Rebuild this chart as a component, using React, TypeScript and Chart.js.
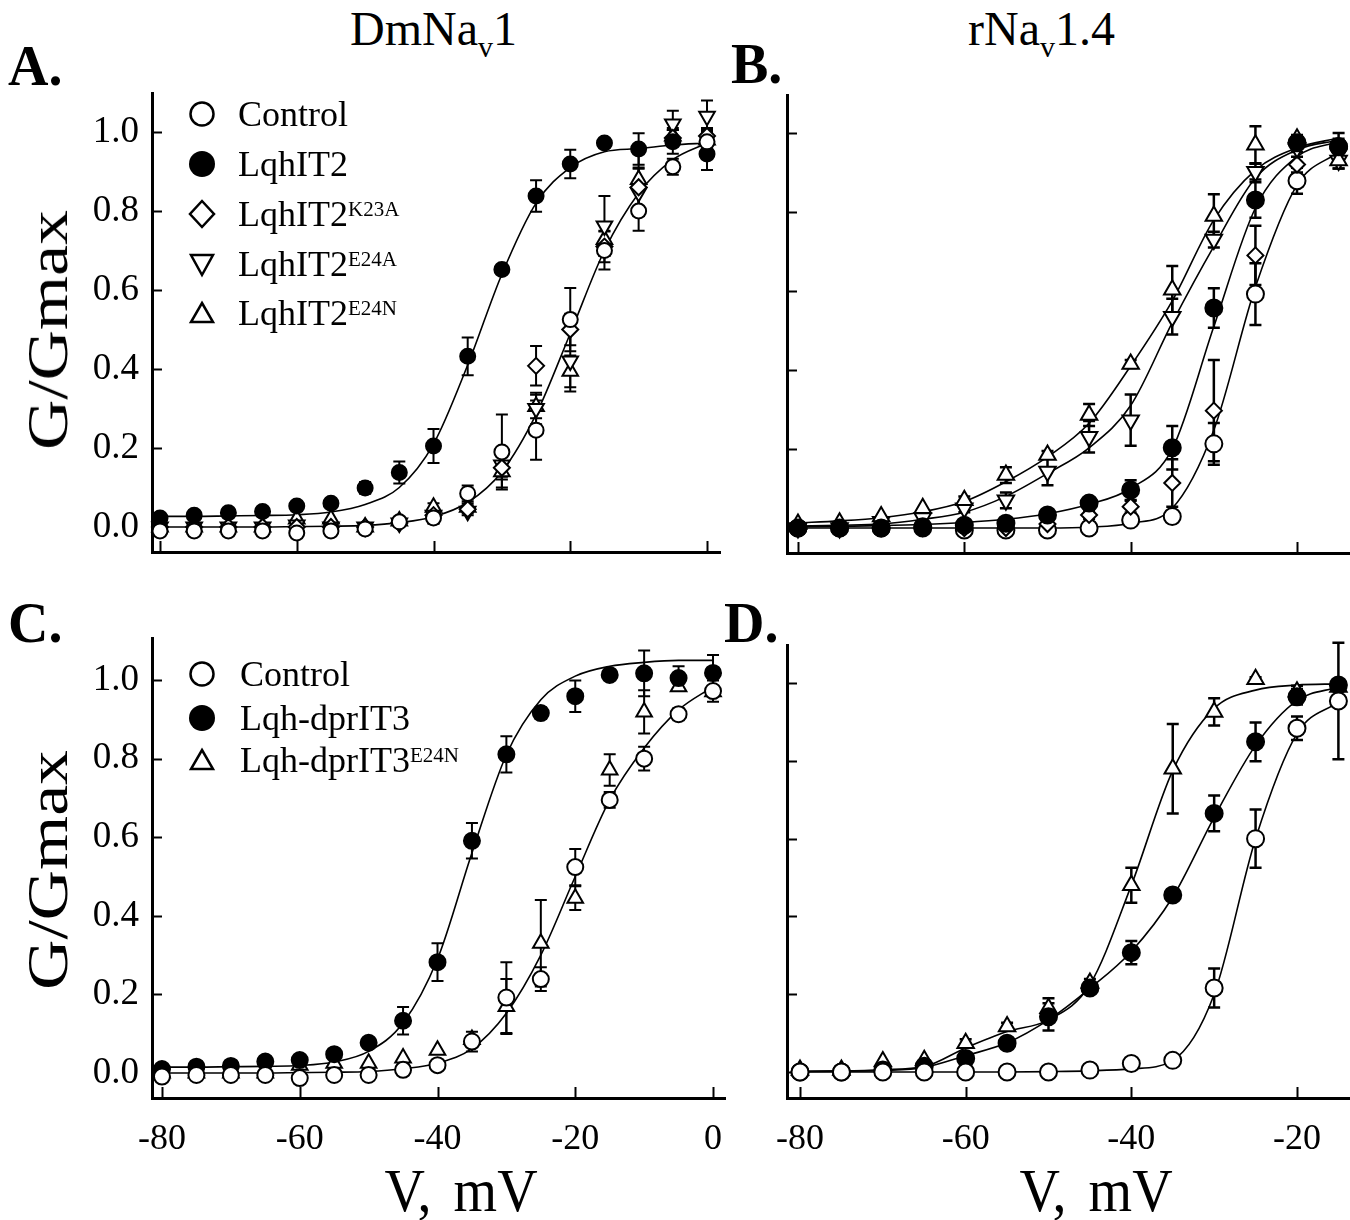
import React, { useEffect, useRef } from 'react';
import { Chart, registerables } from 'chart.js';

Chart.register(...registerables);

const FONT = '"Liberation Serif", "Times New Roman", serif';

// ---------- voltages & tick values ----------
const V_DM = [-80, -75, -70, -65, -60, -55, -50, -45, -40, -35, -30, -25, -20, -15, -10, -5, 0];
const V_R = [-80, -75, -70, -65, -60, -55, -50, -45, -40, -35, -30, -25, -20, -15];
const Y_TICKS = [0, 0.2, 0.4, 0.6, 0.8, 1.0];
const X_TICKS_DM = [-80, -60, -40, -20, 0];
const X_TICKS_R = [-80, -60, -40, -20];

// ---------- Panel A (DmNav1, LqhIT2 and mutants) ----------
const A_control = [-0.01, -0.01, -0.01, -0.01, -0.015, -0.01, -0.005, 0.013, 0.023, 0.085, 0.19, 0.245, 0.525, 0.70, 0.80, 0.912, 0.975];
const A_control_err = [0, 0, 0, 0, 0, 0, 0, 0.01, 0.015, 0.02, 0.095, 0.075, 0.08, 0.048, 0.05, 0.02, 0.03];
const A_lqh = [0.023, 0.030, 0.036, 0.039, 0.053, 0.06, 0.099, 0.138, 0.205, 0.432, 0.652, 0.838, 0.919, 0.972, 0.957, 0.975, 0.944];
const A_lqh_err = [0.005, 0.005, 0.005, 0.005, 0.01, 0.01, 0.015, 0.028, 0.043, 0.048, 0.01, 0.04, 0.036, 0.005, 0.04, 0.03, 0.04];
const A_k23a = [0, 0, 0, 0, 0, 0, 0, 0.01, 0.03, 0.045, 0.15, 0.408, 0.50, 0.71, 0.86, 0.985, 0.99];
const A_k23a_err = [0, 0, 0, 0, 0, 0, 0, 0, 0.01, 0.01, 0.03, 0.05, 0.04, 0.04, 0.05, 0.02, 0.02];
const A_e24a = [0, 0, 0, 0, 0.005, 0, 0, 0.01, 0.03, 0.04, 0.157, 0.30, 0.42, 0.762, 0.847, 1.02, 1.04];
const A_e24a_err = [0, 0, 0, 0, 0, 0, 0, 0, 0.01, 0.01, 0.03, 0.04, 0.077, 0.076, 0.06, 0.034, 0.04];
const A_e24n = [0, 0, 0, 0, 0.02, 0.02, 0, 0.015, 0.05, 0.05, 0.14, 0.305, 0.394, 0.728, 0.88, 0.99, 0.98];
const A_e24n_err = [0, 0, 0, 0, 0, 0, 0, 0, 0.01, 0.01, 0.04, 0.03, 0.04, 0.04, 0.07, 0.02, 0.02];
// fitted curves at 5 mV steps
const A_fit_control = [0, 0, 0, 0, 0.001, 0.002, 0.004, 0.011, 0.026, 0.062, 0.14, 0.285, 0.49, 0.70, 0.845, 0.93, 0.972];
const A_fit_lqh = [0.027, 0.027, 0.028, 0.029, 0.031, 0.038, 0.057, 0.10, 0.21, 0.41, 0.64, 0.82, 0.91, 0.95, 0.958, 0.967, 0.972];

// ---------- Panel B (rNav1.4, LqhIT2 and mutants) ----------
const B_control = [0, 0, 0, 0, -0.005, -0.005, -0.005, 0.0, 0.02, 0.029, 0.213, 0.592, 0.879, 0.965];
const B_control_err = [0, 0, 0, 0, 0, 0, 0, 0, 0.01, 0.01, 0.053, 0.078, 0.033, 0.035];
const B_lqh = [0, 0, 0, 0.003, 0.007, 0.012, 0.033, 0.063, 0.096, 0.203, 0.557, 0.83, 0.975, 0.965];
const B_lqh_err = [0, 0, 0, 0, 0, 0.01, 0.01, 0.01, 0.025, 0.055, 0.05, 0.045, 0.01, 0.02];
const B_k23a = [0, 0, 0, 0, 0, 0, 0.01, 0.033, 0.054, 0.114, 0.297, 0.69, 0.92, 0.96];
const B_k23a_err = [0, 0, 0, 0, 0, 0, 0, 0.01, 0.015, 0.06, 0.128, 0.075, 0.02, 0.02];
const B_e24a = [0, 0, 0.016, 0.025, 0.05, 0.07, 0.143, 0.231, 0.273, 0.535, 0.73, 0.902, 0.962, 0.93];
const B_e24a_err = [0, 0, 0, 0, 0.01, 0.02, 0.035, 0.04, 0.065, 0.045, 0.02, 0.02, 0.01, 0.02];
const B_e24n = [0.01, 0.013, 0.029, 0.05, 0.07, 0.134, 0.185, 0.286, 0.415, 0.603, 0.79, 0.97, 0.985, 0.93];
const B_e24n_err = [0, 0, 0, 0, 0.01, 0.02, 0.01, 0.028, 0.01, 0.06, 0.055, 0.047, 0.01, 0.02];
const B_fit_e24n = [0.013, 0.018, 0.026, 0.041, 0.067, 0.117, 0.18, 0.265, 0.41, 0.575, 0.78, 0.906, 0.962, 0.987];
const B_fit_e24a = [0.005, 0.007, 0.01, 0.022, 0.04, 0.08, 0.138, 0.203, 0.31, 0.52, 0.713, 0.886, 0.957, 0.982];
const B_fit_lqh = [0.003, 0.004, 0.006, 0.009, 0.014, 0.022, 0.036, 0.06, 0.1, 0.2, 0.51, 0.81, 0.94, 0.978];
const B_fit_control = [0, 0, 0, 0, 0, 0, 0, 0.002, 0.012, 0.05, 0.248, 0.61, 0.868, 0.952];

// ---------- Panel C (DmNav1, Lqh-dprIT3) ----------
const C_control = [-0.009, -0.005, -0.005, -0.005, -0.013, -0.005, -0.005, 0.008, 0.02, 0.08, 0.192, 0.239, 0.524, 0.695, 0.80, 0.913, 0.972];
const C_control_err = [0, 0, 0, 0, 0, 0, 0, 0.01, 0.01, 0.025, 0.09, 0.03, 0.046, 0.02, 0.03, 0.015, 0.027];
const C_dpr = [0.01, 0.016, 0.018, 0.029, 0.033, 0.048, 0.077, 0.133, 0.282, 0.591, 0.811, 0.916, 0.959, 1.013, 1.017, 1.005, 1.018];
const C_dpr_err = [0, 0, 0, 0, 0, 0, 0.01, 0.035, 0.048, 0.045, 0.046, 0.015, 0.04, 0.005, 0.058, 0.03, 0.046];
const C_e24n = [0, 0, 0, 0, 0.02, 0.025, 0.025, 0.038, 0.058, 0.085, 0.169, 0.33, 0.445, 0.771, 0.919, 0.983, 0.97];
const C_e24n_err = [0, 0, 0, 0, 0, 0, 0, 0, 0, 0, 0.07, 0.11, 0.03, 0.04, 0.055, 0.01, 0.01];
const C_fit_control = [0, 0, 0, 0, 0.001, 0.002, 0.004, 0.011, 0.025, 0.062, 0.152, 0.3, 0.5, 0.695, 0.827, 0.924, 0.983];
const C_fit_dpr = [0.015, 0.015, 0.016, 0.017, 0.019, 0.028, 0.055, 0.127, 0.29, 0.56, 0.81, 0.95, 1.01, 1.035, 1.045, 1.05, 1.05];

// ---------- Panel D (rNav1.4, Lqh-dprIT3) ----------
const D_control = [0, 0, 0, 0, 0, 0, 0, 0.005, 0.022, 0.03, 0.216, 0.6, 0.884, 0.954];
const D_control_err = [0, 0, 0, 0, 0, 0, 0, 0, 0, 0, 0.05, 0.075, 0.03, 0.15];
const D_dpr = [0, 0, 0.005, 0.015, 0.035, 0.074, 0.142, 0.216, 0.307, 0.455, 0.665, 0.849, 0.965, 0.995];
const D_dpr_err = [0, 0, 0, 0, 0.01, 0.01, 0.035, 0.015, 0.03, 0.01, 0.046, 0.05, 0.02, 0.01];
const D_e24n = [0.005, 0.005, 0.027, 0.03, 0.074, 0.117, 0.164, 0.229, 0.48, 0.78, 0.926, 1.01, 0.978, 0.99];
const D_e24n_err = [0, 0, 0, 0, 0.01, 0.01, 0.026, 0.01, 0.045, 0.115, 0.035, 0.005, 0.015, 0.01];
const D_fit_e24n = [0.002, 0.003, 0.006, 0.014, 0.062, 0.104, 0.134, 0.225, 0.48, 0.775, 0.935, 0.982, 0.995, 0.998];
const D_fit_dpr = [0.001, 0.002, 0.004, 0.012, 0.042, 0.075, 0.134, 0.215, 0.31, 0.45, 0.655, 0.84, 0.955, 0.99];
const D_fit_control = [0, 0, 0, 0, 0, 0, 0.001, 0.003, 0.008, 0.03, 0.2, 0.6, 0.87, 0.952];

// ---------- helpers ----------
type Shape = 'open' | 'filled' | 'diamond' | 'down' | 'up';

const pts = (xs: number[], ys: number[]) => xs.map((x, i) => ({ x, y: ys[i] }));

function markerSet(label: string, xs: number[], ys: number[], errs: number[], shape: Shape, order: number, r: number) {
  const base: any = {
    type: 'scatter',
    label,
    data: pts(xs, ys),
    errorBars: errs,
    showLine: false,
    order,
    clip: false,
    pointBorderColor: '#000',
    pointBorderWidth: 2,
    pointRadius: r,
    pointBackgroundColor: shape === 'filled' ? '#000' : '#fff',
    pointStyle: 'circle',
    pointRotation: 0,
  };
  if (shape === 'diamond') { base.pointStyle = 'rectRot'; base.pointRadius = r; }
  if (shape === 'up') { base.pointStyle = 'triangle'; base.pointRadius = r + 1.5; }
  if (shape === 'down') { base.pointStyle = 'triangle'; base.pointRotation = 180; base.pointRadius = r + 1.5; }
  return base;
}

function fitSet(xs: number[], ys: number[]) {
  return {
    type: 'line',
    label: 'fit',
    data: pts(xs, ys),
    borderColor: '#000',
    borderWidth: 1.6,
    pointRadius: 0,
    cubicInterpolationMode: 'monotone',
    fill: false,
    order: 50,
    clip: false,
  } as any;
}

const errorBarPlugin = {
  id: 'errorBars',
  beforeDatasetsDraw(chart: any) {
    const { ctx } = chart;
    const xs = chart.scales.x;
    const ys = chart.scales.y;
    const capW = chart.options.plugins.innerTicks.cap || 6;
    const lw = chart.options.plugins.innerTicks.errWidth || 2;
    chart.data.datasets.forEach((ds: any) => {
      if (!ds.errorBars) return;
      ctx.save();
      ctx.strokeStyle = '#000';
      ctx.lineWidth = lw;
      ds.data.forEach((p: any, i: number) => {
        const e = ds.errorBars[i];
        if (!e) return;
        const x = xs.getPixelForValue(p.x);
        const y1 = ys.getPixelForValue(p.y + e);
        const y2 = ys.getPixelForValue(p.y - e);
        ctx.beginPath();
        ctx.moveTo(x, y1); ctx.lineTo(x, y2);
        ctx.moveTo(x - capW, y1); ctx.lineTo(x + capW, y1);
        ctx.moveTo(x - capW, y2); ctx.lineTo(x + capW, y2);
        ctx.stroke();
      });
      ctx.restore();
    });
  },
};

const innerTicksPlugin = {
  id: 'innerTicks',
  beforeDatasetsDraw(chart: any, _args: any, opts: any) {
    const { ctx, chartArea } = chart;
    const xs = chart.scales.x;
    const ys = chart.scales.y;
    ctx.save();
    ctx.strokeStyle = '#000';
    ctx.lineWidth = 2;
    (opts.y || []).forEach((v: number) => {
      const y = Math.round(ys.getPixelForValue(v)) + 0.5;
      ctx.beginPath(); ctx.moveTo(chartArea.left, y); ctx.lineTo(chartArea.left + 10, y); ctx.stroke();
    });
    (opts.x || []).forEach((v: number) => {
      const x = Math.round(xs.getPixelForValue(v)) + 0.5;
      ctx.beginPath(); ctx.moveTo(x, chartArea.bottom); ctx.lineTo(x, chartArea.bottom - 11); ctx.stroke();
    });
    ctx.restore();
  },
};

const zeroPadding = (s: any) => {
  s.paddingLeft = 0; s.paddingRight = 0; s.paddingTop = 0; s.paddingBottom = 0;
};

interface PanelCfg {
  left: number; top: number; width: number; height: number;
  padTop: number; padRight: number; yW: number; xH: number;
  xMin: number; xMax: number; yMin: number; yMax: number;
  yLabels: boolean; xLabels: boolean; xTicks: number[];
  datasets: any[]; errWidth: number;
}

function Panel({ cfg }: { cfg: PanelCfg }) {
  const ref = useRef<HTMLCanvasElement | null>(null);
  useEffect(() => {
    if (!ref.current) return;
    const chart = new Chart(ref.current, {
      type: 'scatter',
      data: { datasets: cfg.datasets },
      plugins: [errorBarPlugin, innerTicksPlugin],
      options: {
        animation: false,
        responsive: false,
        events: [],
        devicePixelRatio: 1,
        layout: { padding: { top: cfg.padTop, right: cfg.padRight, left: 0, bottom: 0 }, autoPadding: false },
        plugins: {
          legend: { display: false },
          tooltip: { enabled: false },
          title: { display: false },
          innerTicks: { x: cfg.xTicks, y: Y_TICKS, cap: 6, errWidth: cfg.errWidth },
        } as any,
        scales: {
          x: {
            type: 'linear',
            min: cfg.xMin,
            max: cfg.xMax,
            grid: { display: false, drawTicks: true, tickLength: 8 },
            border: { display: true, color: '#000', width: 3 },
            afterBuildTicks: (s: any) => { s.ticks = cfg.xTicks.map((v) => ({ value: v })); },
            afterFit: (s: any) => { s.height = cfg.xH; zeroPadding(s); },
            ticks: {
              display: cfg.xLabels,
              color: '#000',
              padding: 12,
              maxRotation: 0,
              autoSkip: false,
              font: { family: FONT, size: 36 },
              callback: (v: any) => String(v),
            },
          },
          y: {
            type: 'linear',
            min: cfg.yMin,
            max: cfg.yMax,
            grid: { display: false, drawTicks: false },
            border: { display: true, color: '#000', width: 3 },
            afterBuildTicks: (s: any) => { s.ticks = Y_TICKS.map((v) => ({ value: v })); },
            afterFit: (s: any) => { s.width = cfg.yW; zeroPadding(s); },
            ticks: {
              display: cfg.yLabels,
              color: '#000',
              padding: 13,
              autoSkip: false,
              font: { family: FONT, size: 37 },
              callback: (v: any) => Number(v).toFixed(1),
            },
          },
        },
      } as any,
    });
    return () => chart.destroy();
  }, []);
  return (
    <canvas
      ref={ref}
      width={cfg.width}
      height={cfg.height}
      style={{ position: 'absolute', left: cfg.left, top: cfg.top, width: cfg.width, height: cfg.height }}
    />
  );
}

// ---------- panel configurations ----------
const panelA: PanelCfg = {
  left: 52, top: 73, width: 683, height: 489, padTop: 20, padRight: 15, yW: 100, xH: 10,
  xMin: -81.17, xMax: 1.9, yMin: -0.0633, yMax: 1.0987, yLabels: true, xLabels: false, xTicks: X_TICKS_DM, errWidth: 2,
  datasets: [
    markerSet('Control', V_DM, A_control, A_control_err, 'open', 1, 7.5),
    markerSet('LqhIT2', V_DM, A_lqh, A_lqh_err, 'filled', 2, 7.5),
    markerSet('LqhIT2 K23A', V_DM, A_k23a, A_k23a_err, 'diamond', 3, 8),
    markerSet('LqhIT2 E24A', V_DM, A_e24a, A_e24a_err, 'down', 4, 7.5),
    markerSet('LqhIT2 E24N', V_DM, A_e24n, A_e24n_err, 'up', 5, 7.5),
    fitSet(V_DM, A_fit_control),
    fitSet(V_DM, A_fit_lqh),
  ],
};

const panelB: PanelCfg = {
  left: 767, top: 75, width: 583, height: 488, padTop: 20, padRight: 0, yW: 20, xH: 10,
  xMin: -81.32, xMax: -13.63, yMin: -0.0633, yMax: 1.096, yLabels: false, xLabels: false, xTicks: X_TICKS_R, errWidth: 2.5,
  datasets: [
    markerSet('Control', V_R, B_control, B_control_err, 'open', 5, 8.5),
    markerSet('LqhIT2', V_R, B_lqh, B_lqh_err, 'filled', 1, 8.5),
    markerSet('LqhIT2 K23A', V_R, B_k23a, B_k23a_err, 'diamond', 4, 8),
    markerSet('LqhIT2 E24A', V_R, B_e24a, B_e24a_err, 'down', 3, 8),
    markerSet('LqhIT2 E24N', V_R, B_e24n, B_e24n_err, 'up', 2, 8),
    fitSet(V_R, B_fit_e24n),
    fitSet(V_R, B_fit_e24a),
    fitSet(V_R, B_fit_lqh),
    fitSet(V_R, B_fit_control),
  ],
};

const panelC: PanelCfg = {
  left: 52, top: 618, width: 683, height: 555, padTop: 20, padRight: 10, yW: 100, xH: 75,
  xMin: -81.45, xMax: 1.74, yMin: -0.0636, yMax: 1.107, yLabels: true, xLabels: true, xTicks: X_TICKS_DM, errWidth: 2,
  datasets: [
    markerSet('Control', V_DM, C_control, C_control_err, 'open', 1, 8),
    markerSet('Lqh-dprIT3', V_DM, C_dpr, C_dpr_err, 'filled', 2, 8),
    markerSet('Lqh-dprIT3 E24N', V_DM, C_e24n, C_e24n_err, 'up', 3, 7.5),
    fitSet(V_DM, C_fit_control),
    fitSet(V_DM, C_fit_dpr),
  ],
};

const panelD: PanelCfg = {
  left: 767, top: 625, width: 583, height: 548, padTop: 20, padRight: 0, yW: 20, xH: 75,
  xMin: -81.57, xMax: -13.6, yMin: -0.0668, yMax: 1.098, yLabels: false, xLabels: true, xTicks: X_TICKS_R, errWidth: 2.5,
  datasets: [
    markerSet('Control', V_R, D_control, D_control_err, 'open', 1, 8.5),
    markerSet('Lqh-dprIT3', V_R, D_dpr, D_dpr_err, 'filled', 2, 8.5),
    markerSet('Lqh-dprIT3 E24N', V_R, D_e24n, D_e24n_err, 'up', 3, 8),
    fitSet(V_R, D_fit_e24n),
    fitSet(V_R, D_fit_dpr),
    fitSet(V_R, D_fit_control),
  ],
};

// ---------- legend ----------
const LEGEND_A = [
  { shape: 'open', text: 'Control', sup: '' },
  { shape: 'filled', text: 'LqhIT2', sup: '' },
  { shape: 'diamond', text: 'LqhIT2', sup: 'K23A' },
  { shape: 'down', text: 'LqhIT2', sup: 'E24A' },
  { shape: 'up', text: 'LqhIT2', sup: 'E24N' },
];
const LEGEND_A_Y = [114, 164, 214, 264, 313];
const LEGEND_C = [
  { shape: 'open', text: 'Control', sup: '' },
  { shape: 'filled', text: 'Lqh-dprIT3', sup: '' },
  { shape: 'up', text: 'Lqh-dprIT3', sup: 'E24N' },
];
const LEGEND_C_Y = [674, 718, 760];

function MarkerIcon({ shape }: { shape: string }) {
  const s = 30;
  let el: any = null;
  if (shape === 'open') el = <circle cx={15} cy={15} r={11.5} fill="#fff" stroke="#000" strokeWidth={2.5} />;
  if (shape === 'filled') el = <circle cx={15} cy={15} r={13} fill="#000" />;
  if (shape === 'diamond') el = <polygon points="15,2 27,15 15,28 3,15" fill="#fff" stroke="#000" strokeWidth={2.5} />;
  if (shape === 'down') el = <polygon points="4,6 26,6 15,26" fill="#fff" stroke="#000" strokeWidth={2.5} />;
  if (shape === 'up') el = <polygon points="15,5 26,24 4,24" fill="#fff" stroke="#000" strokeWidth={2.5} />;
  return <svg width={s} height={s} style={{ display: 'block' }}>{el}</svg>;
}

function Legend({ items, ys, markerX, textX }: { items: any[]; ys: number[]; markerX: number; textX: number }) {
  return (
    <>
      {items.map((it, i) => (
        <React.Fragment key={i}>
          <div style={{ position: 'absolute', left: markerX - 15, top: ys[i] - 15 }}>
            <MarkerIcon shape={it.shape} />
          </div>
          <div
            style={{
              position: 'absolute', left: textX, top: ys[i] - 18, fontFamily: FONT, fontSize: 36,
              lineHeight: 1, whiteSpace: 'nowrap', color: '#000',
            }}
          >
            {it.text}
            {it.sup ? <span style={{ fontSize: 21, verticalAlign: 10 }}>{it.sup}</span> : null}
          </div>
        </React.Fragment>
      ))}
    </>
  );
}

const txt = (extra: any) => ({ position: 'absolute', fontFamily: FONT, lineHeight: 1, whiteSpace: 'nowrap', color: '#000', ...extra });

export default function App() {
  return (
    <div style={{ position: 'absolute', left: 0, top: 0, width: 1350, height: 1220, overflow: 'hidden', background: '#fff' }}>
      <Panel cfg={panelA} />
      <Panel cfg={panelB} />
      <Panel cfg={panelC} />
      <Panel cfg={panelD} />

      <div style={txt({ left: 350, top: 5, fontSize: 48 })}>
        DmNa<span style={{ fontSize: 30, verticalAlign: -12 }}>v</span>1
      </div>
      <div style={txt({ left: 968, top: 5, fontSize: 48 })}>
        rNa<span style={{ fontSize: 30, verticalAlign: -12 }}>v</span>1.4
      </div>

      <div style={txt({ left: 8, top: 38, fontSize: 56, fontWeight: 'bold' })}>A.</div>
      <div style={txt({ left: 731, top: 36, fontSize: 56, fontWeight: 'bold' })}>B.</div>
      <div style={txt({ left: 8, top: 595, fontSize: 56, fontWeight: 'bold' })}>C.</div>
      <div style={txt({ left: 724, top: 595, fontSize: 56, fontWeight: 'bold' })}>D.</div>

      <div style={txt({ left: 48, top: 330, fontSize: 58, transform: 'translate(-50%, -50%) rotate(-90deg) scaleX(1.2)' })}>G/Gmax</div>
      <div style={txt({ left: 48, top: 870, fontSize: 58, transform: 'translate(-50%, -50%) rotate(-90deg) scaleX(1.2)' })}>G/Gmax</div>

      <div style={txt({ left: 461, top: 1190, fontSize: 56, wordSpacing: 8, transform: 'translate(-50%, -50%) scaleY(1.1)' })}>V, mV</div>
      <div style={txt({ left: 1096, top: 1190, fontSize: 56, wordSpacing: 8, transform: 'translate(-50%, -50%) scaleY(1.1)' })}>V, mV</div>

      <Legend items={LEGEND_A} ys={LEGEND_A_Y} markerX={202} textX={238} />
      <Legend items={LEGEND_C} ys={LEGEND_C_Y} markerX={202} textX={240} />
    </div>
  );
}
